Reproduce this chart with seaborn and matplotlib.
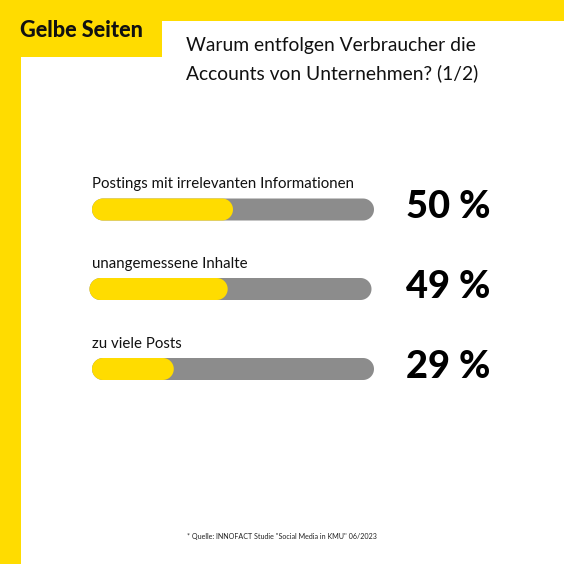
import matplotlib
matplotlib.use("Agg")
import matplotlib.pyplot as plt
from matplotlib.patches import Rectangle, PathPatch
from matplotlib.path import Path
from matplotlib.transforms import IdentityTransform
import numpy as np
import seaborn as sns
import pandas as pd

categories = ["Postings mit irrelevanten Informationen", "unangemessene Inhalte", "zu viele Posts"]
values = [50, 49, 29]
value_labels = ["50 %", "49 %", "29 %"]
full_scale = [100, 100, 100]

YELLOW = "#FFDC00"
GREY = "#8C8C8C"
W = H = 564
FONT = "Lato"

sns.set_theme(style="white")
plt.rcParams["font.family"] = [FONT, "DejaVu Sans"]

fig = plt.figure(figsize=(W / 100, H / 100), dpi=100, facecolor="white")


def px(x, y, **kw):
    return fig.text(x / W, 1 - y / H, va="baseline", ha=kw.pop("ha", "left"), **kw)


def pill(bb, color):
    r = bb.height / 2
    t = np.linspace(-np.pi / 2, np.pi / 2, 40)
    right = np.column_stack([bb.x1 - r + r * np.cos(t), bb.y0 + r + r * np.sin(t)])
    left = np.column_stack([bb.x0 + r - r * np.cos(t[::-1]), bb.y0 + r + r * np.sin(t[::-1])])
    verts = np.vstack([right, left, right[:1]])
    codes = [Path.MOVETO] + [Path.LINETO] * (len(verts) - 2) + [Path.CLOSEPOLY]
    fig.add_artist(PathPatch(Path(verts, codes), transform=IdentityTransform(),
                             facecolor=color, edgecolor="none"))


# frame
for (x0, y0, x1, y1) in [(0, 0, 564, 20.5), (0, 0, 20.5, 564), (0, 0, 162, 57)]:
    fig.add_artist(Rectangle((x0 / W, 1 - y1 / H), (x1 - x0) / W, (y1 - y0) / H,
                             transform=fig.transFigure, facecolor=YELLOW, edgecolor="none"))

px(20, 36.7, s="Gelbe Seiten", fontsize=15.6, fontweight="black", color="#111111")
px(185.5, 51, s="Warum entfolgen Verbraucher die", fontsize=13.9, color="#111111")
px(185.5, 79, s="Accounts von Unternehmen? (1/2)", fontsize=13.9, color="#111111")
px(187, 539.5, s='* Quelle: INNOFACT Studie "Social Media in KMU" 06/2023', fontsize=5.15, color="#222222")

# layout per row: left edge, bar top, label baseline, value baseline
rows = [(92, 198.5, 188, 218), (89.5, 278, 268, 298), (92, 358, 347.7, 378)]
BAR_W, BAR_H = 282, 22

df = pd.DataFrame({"category": categories, "value": values, "full": full_scale})
for i, (left, top, label_y, value_y) in enumerate(rows):
    ax = fig.add_axes([left / W, 1 - (top + BAR_H) / H, BAR_W / W, BAR_H / H])
    row = df.iloc[[i]]
    sns.barplot(data=row, x="full", y="category", color=GREY, width=1, saturation=1, ax=ax)
    sns.barplot(data=row, x="value", y="category", color=YELLOW, width=1, saturation=1, ax=ax)
    ax.set_xlim(0, 100)
    ax.axis("off")
    fig.canvas.draw()
    for patch in list(ax.patches):
        pill(patch.get_window_extent(), patch.get_facecolor())
        patch.set_visible(False)
    px(92, label_y, s=categories[i], fontsize=10.8, color="#111111")
    px(490.5, value_y, s=value_labels[i], fontsize=27.4, fontweight="black", color="#000000", ha="right")

fig.savefig("out.png", dpi=100)
